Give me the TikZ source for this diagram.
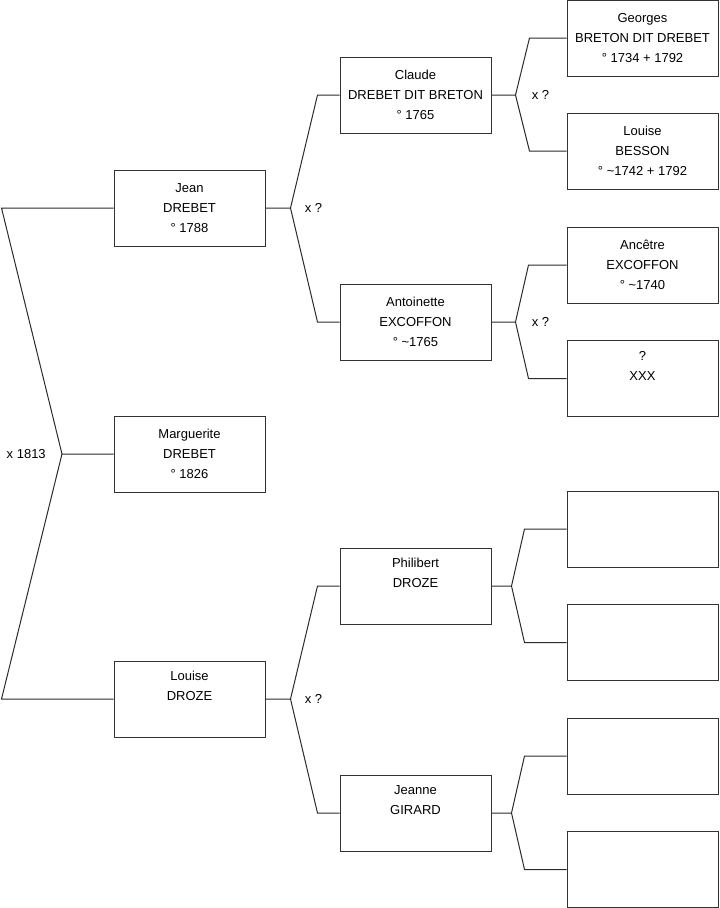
\documentclass[tikz,border=0pt]{standalone}
\usepackage{fontspec}
\setmainfont{Liberation Sans}
\usetikzlibrary{calc,positioning}
\definecolor{boxline}{HTML}{333333}
\definecolor{linkline}{HTML}{2B2B2B}
\tikzset{
  person/.style={draw=boxline,line width=0.75pt,minimum width=113.25pt,minimum height=57pt,inner sep=0pt,align=center,font=\fontsize{9.75}{15}\selectfont},
  link/.style={linkline,line width=0.75pt},
  union/.style={inner sep=0pt,font=\fontsize{9.75}{12}\selectfont}
}
% parent, upper child, lower child, fork length, bend length
\newcommand{\fork}[5]{%
  \draw[link] (#1.east) -- ++(#4,0) coordinate (#1-k) -- ($(#2.west)+(-#5,0)$) -- (#2.west);
  \draw[link] (#1-k) -- ($(#3.west)+(-#5,0)$) -- (#3.west);}

\begin{document}
\begin{tikzpicture}[x=0.75pt,y=-0.75pt]
  \useasboundingbox (0,0) rectangle (719,908);
  \node[person] (jean) at (189.5,208) {Jean\\DREBET\\° 1788};
  \node[person] (marguerite) at (189.5,454) {Marguerite\\DREBET\\° 1826};
  \node[person] (louise) at (189.5,699) {Louise\\DROZE\\\strut};
  \node[person] (claude) at (415.5,95) {Claude\\DREBET DIT BRETON\\° 1765};
  \node[person] (antoinette) at (415.5,322) {Antoinette\\EXCOFFON\\° \textasciitilde1765};
  \node[person] (philibert) at (415.5,586) {Philibert\\DROZE\\\strut};
  \node[person] (jeanne) at (415.5,813) {Jeanne\\GIRARD\\\strut};
  \node[person] (georges) at (642.5,38) {Georges\\BRETON DIT DREBET\\° 1734 + 1792};
  \node[person] (besson) at (642.5,151) {Louise\\BESSON\\° \textasciitilde1742 + 1792};
  \node[person] (ancetre) at (642.5,265) {Ancêtre\\EXCOFFON\\° \textasciitilde1740};
  \node[person] (inconnu) at (642.5,378.5) {?\\XXX\\\strut};
  \node[person] (vide1) at (642.5,529) {};
  \node[person] (vide2) at (642.5,642.5) {};
  \node[person] (vide3) at (642.5,756) {};
  \node[person] (vide4) at (642.5,869.5) {};

  \coordinate (mariage) at (62,454);
  \draw[link] (marguerite.west) -- (mariage) -- ($(jean.west)+(-112,0)$) -- (jean.west);
  \draw[link] (mariage) -- ($(louise.west)+(-112,0)$) -- (louise.west);
  \node[union,left=12pt of mariage] (m0) {x 1813};

  \fork{jean}{claude}{antoinette}{25}{22}
  \fork{louise}{philibert}{jeanne}{25}{22}
  \fork{claude}{georges}{besson}{24}{37}
  \fork{antoinette}{ancetre}{inconnu}{24}{38}
  \fork{philibert}{vide1}{vide2}{20}{42}
  \fork{jeanne}{vide3}{vide4}{20}{42}
  \node[union,right=10.5pt of jean-k] (m1) {x ?};
  \node[union,right=10.5pt of louise-k] (m2) {x ?};
  \node[union,right=12pt of claude-k] (m3) {x ?};
  \node[union,right=12pt of antoinette-k] (m4) {x ?};
\end{tikzpicture}
\end{document}
